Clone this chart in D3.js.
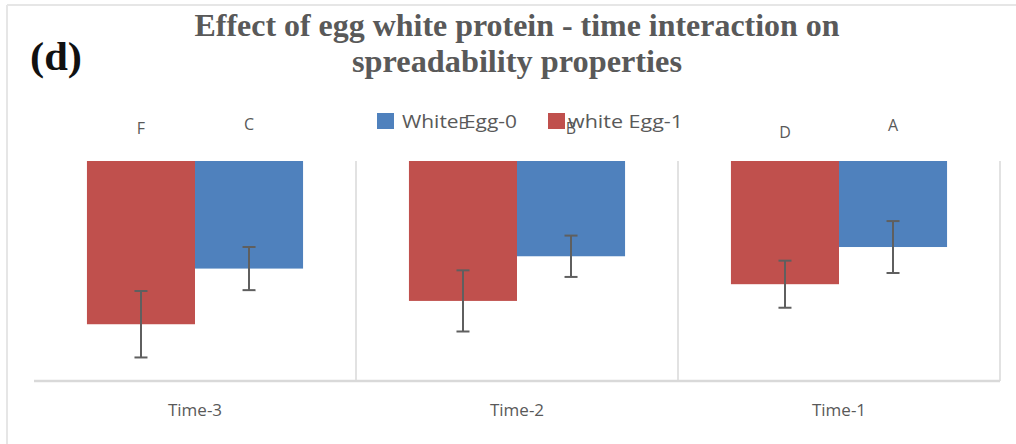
<!DOCTYPE html>
<html>
<head>
<meta charset="utf-8">
<script src="https://cdn.jsdelivr.net/npm/d3@7"></script>
<style>
  html, body { margin: 0; padding: 0; background: #fff; }
  svg { display: block; }
</style>
</head>
<body>
<svg id="chart" width="1016" height="444"></svg>
<script>
// Spreadability by storage time and egg white protein level
const categories = ["Time-3", "Time-2", "Time-1"];
const seriesNames = ["white Egg-1", "White Egg-0"];
const legendOrder = ["White Egg-0", "white Egg-1"];
const egg1Values = [7.42, 6.36, 5.60];
const egg0Values = [4.89, 4.33, 3.91];
const egg1Errors = [1.51, 1.39, 1.07];
const egg0Errors = [0.98, 0.94, 1.18];
const egg1Letters = ["F", "E", "D"];
const egg0Letters = ["C", "B", "A"];
const valueTicks = [0, 2, 4, 6, 8, 10];

const colors = { "White Egg-0": "#4F81BD", "white Egg-1": "#C0504D" };
const textGray = "#595959";
const gridGray = "#d9d9d9";

const svg = d3.select("#chart");

// frame edges
svg.append("line").attr("x1", 7).attr("x2", 1016).attr("y1", 5).attr("y2", 5)
  .attr("stroke", "#e6e6e6").attr("stroke-width", 2);
svg.append("line").attr("x1", 7).attr("x2", 7).attr("y1", 5).attr("y2", 444)
  .attr("stroke", "#e6e6e6").attr("stroke-width", 2);

// title
const title = svg.append("g")
  .attr("font-family", "'Liberation Serif', 'Times New Roman', serif")
  .attr("font-weight", "bold");
title.append("text").attr("x", 517).attr("y", 36).attr("text-anchor", "middle")
  .attr("font-size", 32).attr("fill", textGray)
  .attr("textLength", 645).attr("lengthAdjust", "spacingAndGlyphs")
  .text("Effect of egg white protein - time interaction on");
title.append("text").attr("x", 517).attr("y", 72).attr("text-anchor", "middle")
  .attr("font-size", 32).attr("fill", textGray)
  .attr("textLength", 330).attr("lengthAdjust", "spacingAndGlyphs")
  .text("spreadability properties");
title.append("text").attr("x", 30).attr("y", 70)
  .attr("font-size", 40).attr("fill", "#111")
  .attr("textLength", 52).attr("lengthAdjust", "spacingAndGlyphs")
  .text("(d)");

// plot area
const plot = { left: 34, right: 1000, top: 161, bottom: 381 };

const x0 = d3.scaleBand().domain(categories).range([plot.left, plot.right]).padding(0);
const x1 = d3.scaleBand().domain(seriesNames).range([0, x0.bandwidth()])
  .paddingInner(0).paddingOuter(0.49);
// reversed value axis: bars hang from the top edge
const y = d3.scaleLinear().domain([valueTicks[0], valueTicks[valueTicks.length - 1]])
  .range([plot.top, plot.bottom]);

// category separators and right edge
const seps = categories.slice(1).map(c => x0(c)).concat([plot.right]);
svg.append("g").selectAll("line").data(seps).join("line")
  .attr("x1", d => d).attr("x2", d => d)
  .attr("y1", plot.top).attr("y2", plot.bottom)
  .attr("stroke", gridGray).attr("stroke-width", 1.5);

const rows = categories.map((c, i) => ({
  cat: c,
  items: [
    { s: "white Egg-1", v: egg1Values[i], e: egg1Errors[i], l: egg1Letters[i] },
    { s: "White Egg-0", v: egg0Values[i], e: egg0Errors[i], l: egg0Letters[i] }
  ]
}));

const groups = svg.append("g").selectAll("g").data(rows).join("g")
  .attr("transform", d => `translate(${x0(d.cat)},0)`);

groups.selectAll("rect").data(d => d.items).join("rect")
  .attr("x", d => x1(d.s))
  .attr("width", x1.bandwidth())
  .attr("y", y(0))
  .attr("height", d => y(d.v) - y(0))
  .attr("fill", d => colors[d.s]);

// error bars
const eb = groups.selectAll("g.err").data(d => d.items).join("g").attr("class", "err")
  .attr("stroke", "#5f5f5f").attr("stroke-width", 2);
const cx = d => x1(d.s) + x1.bandwidth() / 2;
eb.append("line").attr("x1", cx).attr("x2", cx)
  .attr("y1", d => y(d.v - d.e)).attr("y2", d => y(d.v + d.e));
eb.append("line").attr("x1", d => cx(d) - 6.5).attr("x2", d => cx(d) + 6.5)
  .attr("y1", d => y(d.v - d.e)).attr("y2", d => y(d.v - d.e));
eb.append("line").attr("x1", d => cx(d) - 6.5).attr("x2", d => cx(d) + 6.5)
  .attr("y1", d => y(d.v + d.e)).attr("y2", d => y(d.v + d.e));

// significance letters above each bar (small manual nudges per label)
const letterRise = { F: 27, C: 31, E: 32, B: 27, D: 23, A: 30 };
groups.selectAll("text.letter").data(d => d.items).join("text").attr("class", "letter")
  .attr("x", d => cx(d))
  .attr("y", d => y(0) - letterRise[d.l])
  .attr("text-anchor", "middle")
  .attr("font-family", "'Open Sans', 'Noto Sans', sans-serif")
  .attr("font-size", 16).attr("fill", textGray)
  .text(d => d.l);

// category axis
const xAxis = svg.append("g").attr("transform", `translate(0,${plot.bottom})`)
  .call(d3.axisBottom(x0).tickSize(0).tickPadding(20));
xAxis.select(".domain").attr("stroke", gridGray).attr("stroke-width", 2.5)
  .attr("d", `M${plot.left},0H${plot.right}`);
xAxis.selectAll(".tick text")
  .attr("font-family", "'Open Sans', 'Noto Sans', sans-serif")
  .attr("font-size", 17).attr("fill", textGray)
  .attr("dy", "0.9em");

// legend
const legendX = { "White Egg-0": 377, "white Egg-1": 548 };
const legend = svg.append("g").selectAll("g").data(legendOrder).join("g")
  .attr("transform", d => `translate(${legendX[d]},113)`);
legend.append("rect").attr("width", 17).attr("height", 16)
  .attr("fill", d => colors[d]);
legend.append("text").attr("x", d => d === "White Egg-0" ? 25 : 20).attr("y", 15)
  .attr("font-family", "'Open Sans', 'Noto Sans', sans-serif")
  .attr("font-size", 18).attr("fill", textGray)
  .attr("textLength", 115).attr("lengthAdjust", "spacingAndGlyphs")
  .text(d => d);
</script>
</body>
</html>
